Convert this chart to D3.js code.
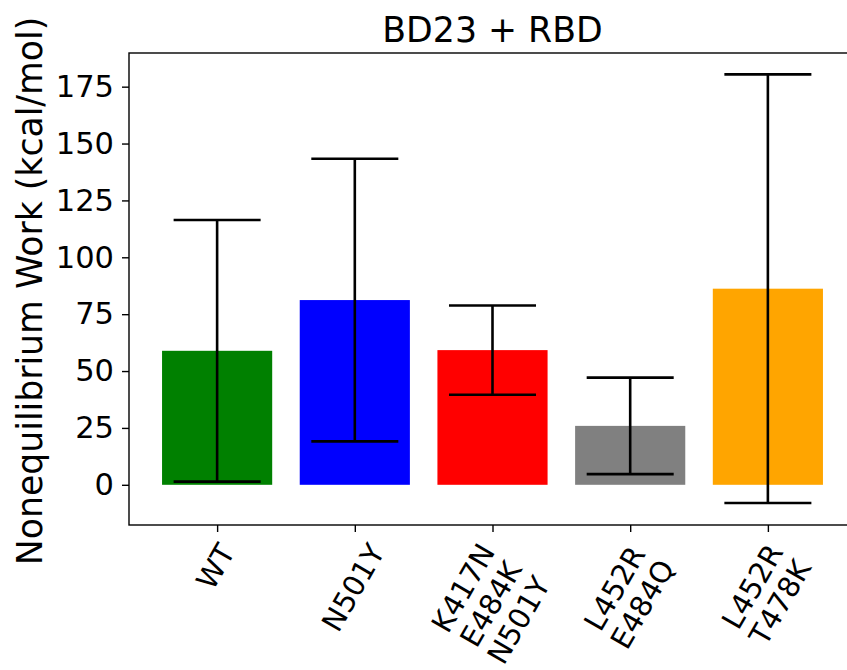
<!DOCTYPE html>
<html>
<head>
<meta charset="utf-8">
<script src="https://cdn.jsdelivr.net/npm/d3@7"></script>
<style>
  html, body { margin: 0; padding: 0; background: #fff; overflow: hidden; }
  text { font-family: "DejaVu Sans", sans-serif; fill: #000; }
</style>
</head>
<body>
<svg id="chart" width="847" height="670"></svg>
<script>
const categories = ["WT", "N501Y", "K417N\nE484K\nN501Y", "L452R\nE484Q", "L452R\nT478K"];
const means = [58.9, 81.2, 59.2, 25.9, 86.2];
const errors = [57.5, 62.1, 19.6, 21.2, 94.2];
const colors = ["#008000", "#0000ff", "#ff0000", "#808080", "#ffa500"];
const yTicks = [0, 25, 50, 75, 100, 125, 150, 175];
const title = "BD23 + RBD";
const yLabel = "Nonequilibrium Work (kcal/mol)";

(function () {
const svg = d3.select("#chart");
const mLeft = 129, mRight = 856, mTop = 53, mBottom = 525;
const fsY = 30.5;
const fsX = 29;
const fsBig = 34.7;

const x = d3.scaleLinear().domain([-0.64, categories.length - 1 + 0.64]).range([mLeft, mRight]);
const y = d3.scaleLinear().domain([-17.67, 189.8]).range([mBottom, mTop]);
const barW = x(0.8) - x(0);
const capHalf = x(0.316) - x(0);

// bars
svg.append("g").selectAll("rect").data(means).join("rect")
  .attr("x", (d, i) => x(i) - barW / 2)
  .attr("width", barW)
  .attr("y", d => y(Math.max(0, d)))
  .attr("height", d => Math.abs(y(d) - y(0)))
  .attr("fill", (d, i) => colors[i]);

// error bars
const eg = svg.append("g").attr("stroke", "#000").attr("stroke-width", 2.6);
means.forEach((m, i) => {
  const lo = m - errors[i], hi = m + errors[i];
  eg.append("line").attr("x1", x(i)).attr("x2", x(i)).attr("y1", y(lo)).attr("y2", y(hi));
  eg.append("line").attr("x1", x(i) - capHalf).attr("x2", x(i) + capHalf).attr("y1", y(lo)).attr("y2", y(lo));
  eg.append("line").attr("x1", x(i) - capHalf).attr("x2", x(i) + capHalf).attr("y1", y(hi)).attr("y2", y(hi));
});

// frame
svg.append("rect").attr("x", mLeft).attr("y", mTop).attr("width", mRight - mLeft).attr("height", mBottom - mTop)
  .attr("fill", "none").attr("stroke", "#000").attr("stroke-width", 1.4);

// y axis
const yAxis = d3.axisLeft(y).tickValues(yTicks).tickSize(7).tickPadding(8).tickFormat(d3.format("d"));
const gy = svg.append("g").attr("transform", `translate(${mLeft},0)`).call(yAxis);
gy.select(".domain").remove();
gy.selectAll(".tick line").attr("stroke", "#000").attr("stroke-width", 1.4);
gy.selectAll(".tick text").attr("font-size", fsY).attr("font-family", "DejaVu Sans").attr("fill", "#000");

// x axis ticks
const xAxis = d3.axisBottom(x).tickValues(d3.range(categories.length)).tickSize(7).tickFormat("");
const gx = svg.append("g").attr("transform", `translate(0,${mBottom})`).call(xAxis);
gx.select(".domain").remove();
gx.selectAll(".tick line").attr("stroke", "#000").attr("stroke-width", 1.4);

// rotated multiline x labels
const lh = 32;
const ang = 60 * Math.PI / 180;
categories.forEach((c, i) => {
  const lines = c.split("\n");
  const g = svg.append("g");
  const t = g.append("text").attr("font-size", fsX).attr("text-anchor", "middle");
  const n = lines.length;
  lines.forEach((ln, k) => {
    t.append("tspan").attr("x", 0)
      .attr("y", (k - (n - 1) / 2) * lh + fsX * 0.3645)
      .text(ln);
  });
  let w = 0;
  t.selectAll("tspan").each(function () { w = Math.max(w, this.getComputedTextLength()); });
  const hv = (n - 1) * lh + fsX * 0.729;
  const H = w * Math.sin(ang) + hv * Math.cos(ang);
  g.attr("transform", `translate(${x(i) - 2},${541 + H / 2}) rotate(-60)`);
});

// title
svg.append("text").attr("x", (mLeft + mRight) / 2).attr("y", 42)
  .attr("text-anchor", "middle").attr("font-size", fsBig).text(title);

// y label
svg.append("text").attr("transform", `translate(42,${(mTop + mBottom) / 2 + 2}) rotate(-90)`)
  .attr("text-anchor", "middle").attr("font-size", fsBig).text(yLabel);
})();
</script>
</body>
</html>
